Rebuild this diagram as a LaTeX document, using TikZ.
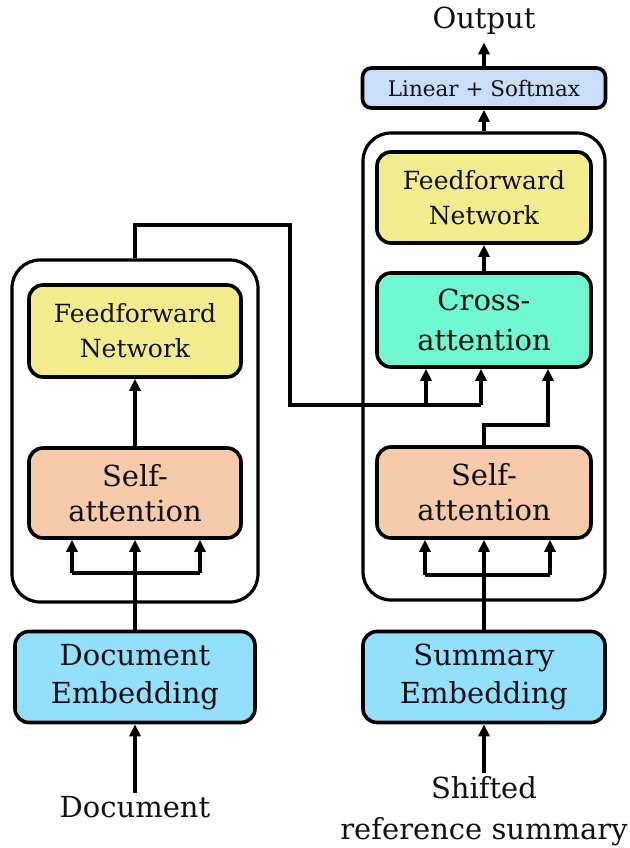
\documentclass[tikz,border=0pt]{standalone}
\usepackage{fontspec}
\setmainfont{DejaVu Serif}
\usetikzlibrary{arrows.meta}
\definecolor{ffncol}{HTML}{F3EC8E}
\definecolor{sacol}{HTML}{F7CBA9}
\definecolor{cacol}{HTML}{6FF8D2}
\definecolor{embcol}{HTML}{93E0FC}
\definecolor{lincol}{HTML}{C8DDF8}
\definecolor{txtcol}{HTML}{101018}
\begin{document}
\begin{tikzpicture}[x=1pt,y=-1pt,
  box/.style={draw=black, line width=3.6pt, rounded corners=14pt, align=center, inner sep=0pt, text=txtcol},
  outerbox/.style={draw=black, line width=3.2pt, rounded corners=28pt, inner sep=0pt},
  conn/.style={line width=3.4pt},
  arr/.style={conn, -{Triangle[length=12pt,width=11pt]}},
  bigtxt/.style={font=\fontsize{29}{35}\selectfont},
  ffntxt/.style={font=\fontsize{25}{35}\selectfont},
  lintxt/.style={font=\fontsize{21.5}{25}\selectfont},
  plaintxt/.style={text=txtcol, align=center, font=\fontsize{29}{41}\selectfont}]
\useasboundingbox (0,0) rectangle (629,848);
\fill[white] (0,0) rectangle (629,848);
% outer encoder/decoder frames
\node[outerbox, minimum width=246pt, minimum height=342pt] (encL) at (135,431) {};
\node[outerbox, minimum width=242pt, minimum height=467pt] (encR) at (484,366.5) {};
% left column
\node[box, fill=ffncol, ffntxt, minimum width=212pt, minimum height=92pt] (ffnL) at (135,331) {Feedforward\\Network};
\node[box, fill=sacol, bigtxt, minimum width=212pt, minimum height=90pt] (saL) at (135,493) {Self-\\attention};
\node[box, fill=embcol, minimum width=240pt, minimum height=91pt, font=\fontsize{29}{38}\selectfont] (embL) at (135,677) {Document\\Embedding};
\node[plaintxt] (doc) at (135,807) {Document};
% right column
\node[box, fill=lincol, lintxt, minimum width=243pt, minimum height=40pt, rounded corners=9pt] (lin) at (484,88) {Linear + Softmax};
\node[plaintxt] (out) at (484,21) {Output};
\node[box, fill=ffncol, ffntxt, minimum width=214pt, minimum height=91pt] (ffnR) at (484,197.5) {Feedforward\\Network};
\node[box, fill=cacol, minimum width=214pt, minimum height=94pt, font=\fontsize{29}{40}\selectfont] (caR) at (484,320) {Cross-\\attention};
\node[box, fill=sacol, bigtxt, minimum width=214pt, minimum height=91pt] (saR) at (484,492.5) {Self-\\attention};
\node[box, fill=embcol, minimum width=242pt, minimum height=91pt, font=\fontsize{29}{38}\selectfont] (embR) at (484,677) {Summary\\Embedding};
\node[plaintxt] (shift) at (484,811) {Shifted\\reference summary};
% helper coordinates
\coordinate (lf1) at (72,573);
\coordinate (lf2) at (200,573);
\coordinate (rf1) at (425,575);
\coordinate (rf2) at (550,575);
\coordinate (lt) at (135,225);
\coordinate (lm) at (290,405);
\coordinate (rj1) at (426,405);
\coordinate (rj2) at (481,405);
\coordinate (sc1) at (484,425);
\coordinate (sc2) at (548,425);
% left connectors
\draw[arr] (doc.north) -- (embL.south);
\draw[arr] (embL.north) -- (saL.south);
\draw[conn] (lf1) -- (lf2);
\draw[arr] (lf1) -- (lf1 |- saL.south);
\draw[arr] (lf2) -- (lf2 |- saL.south);
\draw[arr] (saL.north) -- (ffnL.south);
\draw[conn] (encL.north) -- (lt) -| (lm) -- (rj2);
\draw[arr] (rj1) -- (rj1 |- caR.south);
\draw[arr] (rj2) -- (rj2 |- caR.south);
% right connectors
\draw[arr] (shift.north) -- (embR.south);
\draw[arr] (embR.north) -- (saR.south);
\draw[conn] (rf1) -- (rf2);
\draw[arr] (rf1) -- (rf1 |- saR.south);
\draw[arr] (rf2) -- (rf2 |- saR.south);
\draw[arr] (saR.north) -- (sc1) -- (sc2) -- (sc2 |- caR.south);
\draw[arr] (caR.north) -- (ffnR.south);
\draw[arr] (encR.north) -- (lin.south);
\draw[arr, shorten >=4pt] (lin.north) -- (out.south);
\end{tikzpicture}
\end{document}
